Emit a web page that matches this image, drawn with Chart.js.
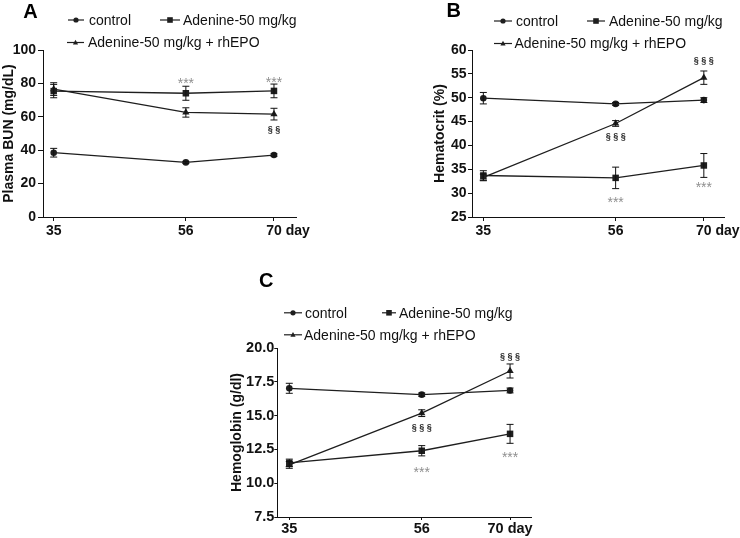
<!DOCTYPE html>
<html><head><meta charset="utf-8">
<script src="https://cdn.jsdelivr.net/npm/chart.js@4/dist/chart.umd.min.js"></script>
<style>
html,body{margin:0;padding:0;background:#fff;}
#wrap{position:relative;width:740px;height:538px;overflow:hidden;background:#fff;}
canvas{position:absolute;}
</style></head><body>
<div id="wrap">
<canvas id="cA" width="370" height="270" style="left:0px;top:0px"></canvas>
<canvas id="cB" width="370" height="270" style="left:370px;top:0px"></canvas>
<canvas id="cC" width="370" height="268" style="left:190px;top:270px"></canvas>
</div>
<script>
// ---------- data ----------
const days = [35, 56, 70];
const xTickLabels = ['35', '56', '70'];
const xUnit = 'day';
const seriesNames = ['control', 'Adenine-50 mg/kg', 'Adenine-50 mg/kg + rhEPO'];

// Panel A: Plasma BUN (mg/dL)
const bunControl = [38.5, 32.7, 37.1];
const bunControlErr = [2.6, 0.6, 0.7];
const bunAdenine = [75.4, 74.1, 75.5];
const bunAdenineErr = [4.0, 4.2, 4.1];
const bunEPO = [76.6, 62.6, 61.6];
const bunEPOErr = [3.8, 2.8, 3.5];
const bunTicks = [0, 20, 40, 60, 80, 100];
const bunNoteText = ['***', '***', '§ §'];
const bunNoteDay = [56, 70, 70];
const bunNoteValue = [82.0, 82.8, 52.7];

// Panel B: Hematocrit (%)
const hctControl = [49.9, 48.7, 49.5];
const hctControlErr = [1.2, 0.3, 0.5];
const hctAdenine = [33.7, 33.2, 35.8];
const hctAdenineErr = [1.0, 2.25, 2.5];
const hctEPO = [33.3, 44.6, 54.2];
const hctEPOErr = [0.7, 0.6, 1.4];
const hctTicks = [25, 30, 35, 40, 45, 50, 55, 60];
const hctNoteText = ['§ § §', '§ § §', '***', '***'];
const hctNoteDay = [70, 56, 56, 70];
const hctNoteValue = [57.7, 41.9, 28.9, 31.85];

// Panel C: Hemoglobin (g/dl)
const hbControl = [17.02, 16.55, 16.86];
const hbControlErr = [0.37, 0.12, 0.18];
const hbAdenine = [11.5, 12.4, 13.65];
const hbAdenineErr = [0.28, 0.38, 0.7];
const hbEPO = [11.35, 15.18, 18.3];
const hbEPOErr = [0.25, 0.25, 0.52];
const hbTicks = [7.5, 10.0, 12.5, 15.0, 17.5, 20.0];
const hbNoteText = ['§ § §', '§ § §', '***', '***'];
const hbNoteDay = [70, 56, 56, 70];
const hbNoteValue = [19.38, 14.1, 11.07, 12.18];

// ---------- styles / layout ----------
const FONT = "'Liberation Sans', Arial, Helvetica, sans-serif";
const INK = '#111';
const LINE = '#1e1e1e';
const pointStyles = ['circle', 'rect', 'triangle'];
const pointRadii = [3.3, 4.6, 4.2];

const panels = [
  {
    id: 'cA', letter: 'A', letterX: 30.5, letterY: 17.5,
    title: 'Plasma BUN (mg/dL)', ticks: bunTicks, decimals: 0,
    xMin: 33.3, xMax: 73.5, unitInline: false,
    tickFont: 14, yTickLen: 5, yTickPad: 2, xTickLen: 4, xPad: 2,
    values: [bunControl, bunAdenine, bunEPO],
    errors: [bunControlErr, bunAdenineErr, bunEPOErr],
    notes: [bunNoteText, bunNoteDay, bunNoteValue],
    pad: {left: 0, top: 50, right: 74, bottom: 0}, yWidth: 43, xHeight: 53,
    legend: [
      {s: 0, x1: 68, x2: 84, tx: 89, y: 21},
      {s: 1, x1: 160, x2: 180, tx: 183, y: 21},
      {s: 2, x1: 67, x2: 84, tx: 88, y: 43.5}
    ]
  },
  {
    id: 'cB', letter: 'B', letterX: 83.7, letterY: 17,
    title: 'Hematocrit (%)', ticks: hctTicks, decimals: 0,
    xMin: 33.2, xMax: 73.2, unitInline: false,
    tickFont: 14, yTickLen: 4, yTickPad: 1.5, xTickLen: 4, xPad: 2,
    values: [hctControl, hctAdenine, hctEPO],
    errors: [hctControlErr, hctAdenineErr, hctEPOErr],
    notes: [hctNoteText, hctNoteDay, hctNoteValue],
    pad: {left: 61, top: 50, right: 16, bottom: 0}, yWidth: 41, xHeight: 53,
    legend: [
      {s: 0, x1: 124, x2: 142, tx: 146, y: 22},
      {s: 1, x1: 217, x2: 235, tx: 239, y: 22},
      {s: 2, x1: 124, x2: 142, tx: 144.5, y: 44.5}
    ]
  },
  {
    id: 'cC', letter: 'C', letterX: 76.3, letterY: 16.7,
    title: 'Hemoglobin (g/dl)', ticks: hbTicks, decimals: 1,
    xMin: 33.1, xMax: 73.4, unitInline: true,
    tickFont: 14.5, yTickLen: 3, yTickPad: 0, xTickLen: 3, xPad: 0,
    values: [hbControl, hbAdenine, hbEPO],
    errors: [hbControlErr, hbAdenineErr, hbEPOErr],
    notes: [hbNoteText, hbNoteDay, hbNoteValue],
    pad: {left: 38, top: 78, right: 28.5, bottom: 0}, yWidth: 49.3, xHeight: 21,
    legend: [
      {s: 0, x1: 94, x2: 112, tx: 115, y: 43.8},
      {s: 1, x1: 192, x2: 206, tx: 209, y: 43.8},
      {s: 2, x1: 94, x2: 112, tx: 114, y: 65.8}
    ]
  }
];

function drawMarker(ctx, style, x, y, r) {
  ctx.beginPath();
  if (style === 'circle') {
    ctx.arc(x, y, r, 0, Math.PI * 2);
  } else if (style === 'rect') {
    ctx.rect(x - r, y - r, 2 * r, 2 * r);
  } else {
    ctx.moveTo(x, y - r * 1.05);
    ctx.lineTo(x + r * 1.0, y + r * 0.75);
    ctx.lineTo(x - r * 1.0, y + r * 0.75);
    ctx.closePath();
  }
  ctx.fill();
}

const decorPlugin = {
  id: 'decor',
  afterDatasetsDraw(chart) {
    const p = chart.options.plugins.decor;
    const ctx = chart.ctx, xs = chart.scales.x, ys = chart.scales.y;
    ctx.save();
    ctx.strokeStyle = INK;
    ctx.lineWidth = 1;
    p.values.forEach((vals, si) => {
      const errs = p.errors[si];
      days.forEach((d, i) => {
        const x = xs.getPixelForValue(d);
        const yTop = ys.getPixelForValue(vals[i] + errs[i]);
        const yBot = ys.getPixelForValue(vals[i] - errs[i]);
        ctx.beginPath();
        ctx.moveTo(x, yTop); ctx.lineTo(x, yBot);
        ctx.moveTo(x - 3.5, yTop); ctx.lineTo(x + 3.5, yTop);
        ctx.moveTo(x - 3.5, yBot); ctx.lineTo(x + 3.5, yBot);
        ctx.stroke();
      });
    });
    ctx.restore();
  },
  afterDraw(chart) {
    const p = chart.options.plugins.decor;
    const ctx = chart.ctx, xs = chart.scales.x, ys = chart.scales.y;
    ctx.save();
    // panel letter
    ctx.fillStyle = '#000';
    ctx.font = 'bold 20px ' + FONT;
    ctx.textAlign = 'center';
    ctx.textBaseline = 'alphabetic';
    ctx.fillText(p.letter, p.letterX, p.letterY);
    // legend
    ctx.font = '14px ' + FONT;
    ctx.textAlign = 'left';
    ctx.textBaseline = 'middle';
    p.legend.forEach(it => {
      ctx.strokeStyle = LINE; ctx.fillStyle = LINE; ctx.lineWidth = 1.2;
      ctx.beginPath();
      ctx.moveTo(it.x1, it.y - 1); ctx.lineTo(it.x2, it.y - 1);
      ctx.stroke();
      drawMarker(ctx, pointStyles[it.s], (it.x1 + it.x2) / 2, it.y - 1, it.s === 1 ? 2.8 : 2.6);
      ctx.fillStyle = INK;
      ctx.fillText(seriesNames[it.s], it.tx, it.y);
    });
    // significance notes
    const [texts, nd, nv] = p.notes;
    texts.forEach((t, i) => {
      const x = xs.getPixelForValue(nd[i]);
      const y = ys.getPixelForValue(nv[i]);
      ctx.textAlign = 'center';
      ctx.textBaseline = 'alphabetic';
      if (t.indexOf('*') >= 0) {
        ctx.font = '14px ' + FONT;
        ctx.fillStyle = '#8f8f8f';
        ctx.fillText(t, x, y + 0.58 * 14);
      } else {
        ctx.font = 'bold 9px ' + FONT;
        ctx.fillStyle = '#2a2a2a';
        ctx.fillText(t, x, y + 0.28 * 9);
      }
    });
    // unit after last x tick label (when not part of the label)
    if (!p.unitInline) {
      const items = xs.getLabelItems();
      const last = items[items.length - 1];
      if (last) {
        ctx.font = 'bold ' + p.tickFont + 'px ' + FONT;
        ctx.fillStyle = INK;
        const w = ctx.measureText(String(last.label)).width;
        ctx.textAlign = 'left';
        ctx.textBaseline = last.options.textBaseline;
        ctx.fillText(' ' + xUnit, last.options.translation[0] + w / 2, last.options.translation[1] + last.textOffset);
      }
    }
    ctx.restore();
  }
};

panels.forEach(pn => {
  const datasets = pn.values.map((vals, si) => ({
    label: seriesNames[si],
    data: days.map((d, i) => ({x: d, y: vals[i]})),
    borderColor: LINE,
    backgroundColor: LINE,
    borderWidth: 1.3,
    pointStyle: pointStyles[si],
    pointRadius: pointRadii[si],
    pointBorderWidth: 0,
    pointBackgroundColor: LINE,
    tension: 0,
    fill: false
  }));
  const yMin = pn.ticks[0], yMax = pn.ticks[pn.ticks.length - 1];
  new Chart(document.getElementById(pn.id), {
    type: 'line',
    data: {datasets},
    plugins: [decorPlugin],
    options: {
      responsive: false,
      animation: false,
      events: [],
      clip: false,
      layout: {padding: pn.pad},
      plugins: {
        legend: {display: false},
        tooltip: {enabled: false},
        decor: {
          letter: pn.letter, letterX: pn.letterX, letterY: pn.letterY,
          values: pn.values, errors: pn.errors, notes: pn.notes, legend: pn.legend,
          unitInline: pn.unitInline, tickFont: pn.tickFont
        }
      },
      scales: {
        x: {
          type: 'linear', min: pn.xMin, max: pn.xMax,
          afterBuildTicks: s => { s.ticks = days.map(v => ({value: v})); },
          afterFit: s => { s.height = pn.xHeight; },
          ticks: {
            autoSkip: false, maxRotation: 0, padding: pn.xPad,
            color: INK, font: {family: FONT, size: pn.tickFont, weight: 'bold'},
            callback: v => {
              const i = days.indexOf(v);
              return (pn.unitInline && i === days.length - 1) ? xTickLabels[i] + ' ' + xUnit : xTickLabels[i];
            }
          },
          grid: {display: true, drawOnChartArea: false, drawTicks: true, tickLength: pn.xTickLen, color: INK, lineWidth: 1},
          border: {display: true, color: INK, width: 1}
        },
        y: {
          type: 'linear', min: yMin, max: yMax,
          afterBuildTicks: s => { s.ticks = pn.ticks.map(v => ({value: v})); },
          afterFit: s => { s.width = pn.yWidth; },
          ticks: {
            autoSkip: false, padding: pn.yTickPad,
            color: INK, font: {family: FONT, size: pn.tickFont, weight: 'bold'},
            callback: v => Number(v).toFixed(pn.decimals)
          },
          grid: {display: true, drawOnChartArea: false, drawTicks: true, tickLength: pn.yTickLen, color: INK, lineWidth: 1},
          border: {display: true, color: INK, width: 1},
          title: {
            display: true, text: pn.title, color: INK,
            font: {family: FONT, size: 14, weight: 'bold'},
            padding: {top: 1, bottom: 0}
          }
        }
      }
    }
  });
});
</script>
</body></html>
